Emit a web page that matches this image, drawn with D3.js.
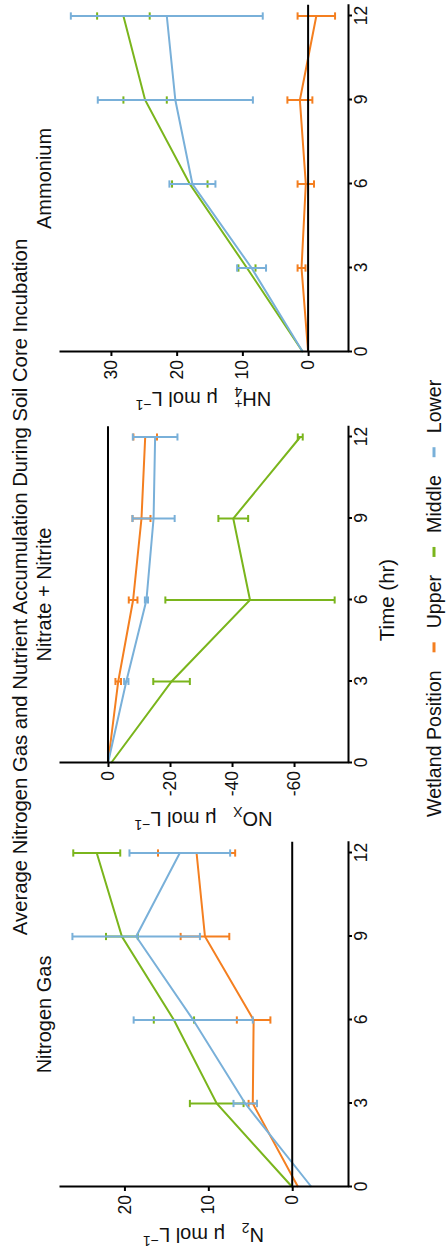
<!DOCTYPE html>
<html>
<head>
<meta charset="utf-8">
<script src="https://cdn.jsdelivr.net/npm/d3@7"></script>
<style>
body { margin: 0; background: #fff; }
svg { display: block; }
text { font-family: "Liberation Sans", Arial, sans-serif; fill: #111; }
</style>
</head>
<body>
<script>
var WIDTH = 447;
var HEIGHT = 1249;

var times = [0, 3, 6, 9, 12];
var positions = ['Upper', 'Middle', 'Lower'];
var colors = ['#f47f20', '#7ab51c', '#79b0d9'];

// N2 (umol/L)
var n2Upper = [-0.7, 4.7, 4.6, 10.4, 11.4];
var n2UpperErr = [0, 0.5, 2.0, 2.9, 4.6];
var n2Middle = [0, 9.0, 14.1, 20.3, 23.3];
var n2MiddleErr = [0, 3.2, 2.4, 1.9, 2.8];
var n2Lower = [-2.3, 5.6, 11.8, 18.6, 13.4];
var n2LowerErr = [0, 1.4, 7.1, 7.6, 6.0];

// NOx (umol/L)
var noxUpper = [0, -3.3, -8.1, -10.8, -12.0];
var noxUpperErr = [0, 0.9, 1.4, 2.9, 3.8];
var noxMiddle = [-1.0, -20.5, -45.8, -40.4, -62.0];
var noxMiddleErr = [0, 5.9, 27.3, 4.8, 0.8];
var noxLower = [0, -5.9, -12.4, -14.7, -15.2];
var noxLowerErr = [0, 0.7, 0.5, 6.8, 7.2];

// NH4+ (umol/L)
var nhUpper = [0, 1.0, 0.35, 1.25, -1.25];
var nhUpperErr = [0, 0.6, 1.25, 1.9, 2.85];
var nhMiddle = [0.8, 9.3, 18.0, 24.8, 28.1];
var nhMiddleErr = [0, 1.3, 2.7, 3.3, 4.0];
var nhLower = [0.8, 8.6, 17.6, 20.2, 21.5];
var nhLowerErr = [0, 2.2, 3.5, 11.8, 14.6];

var n2Ticks = [0, 10, 20];
var noxTicks = [0, -20, -40, -60];
var nhTicks = [0, 10, 20, 30];

var TOP = 59, BOTTOM = 348;

var panels = [
    {title: 'Nitrogen Gas', x0: 62, x12: 396, domain: [-6.65, 27.8], ticks: n2Ticks, labelX: 21,
     label: [['N', 0], ['2', 'sub'], ['   \u03bc mol L', 0], ['\u22121', 'sup']],
     means: [n2Upper, n2Middle, n2Lower], errs: [n2UpperErr, n2MiddleErr, n2LowerErr]},
    {title: 'Nitrate + Nitrite', x0: 486, x12: 812, domain: [-77.4, 15.8], ticks: noxTicks, labelX: 437,
     label: [['NO', 0], ['X', 'sub'], ['   \u03bc mol L', 0], ['\u22121', 'sup']],
     means: [noxUpper, noxMiddle, noxLower], errs: [noxUpperErr, noxMiddleErr, noxLowerErr]},
    {title: 'Ammonium', x0: 897, x12: 1233, domain: [-6.07, 37.9], ticks: nhTicks, labelX: 857,
     label: [['NH', 0], ['4', 'sub'], ['+', 'supback'], ['   \u03bc mol L', 0], ['\u22121', 'sup']],
     means: [nhUpper, nhMiddle, nhLower], errs: [nhUpperErr, nhMiddleErr, nhLowerErr]}
];

var svg = d3.select('body').append('svg')
    .attr('width', WIDTH)
    .attr('height', HEIGHT);

// the figure is laid out landscape (1249 x 447) and turned a quarter turn
var root = svg.append('g')
    .attr('transform', 'translate(0,' + HEIGHT + ') rotate(-90)');

var drawPanel = function(p) {
    var g = root.append('g');
    var xScale = d3.scaleLinear()
        .domain([0, 12.4])
        .range([p.x0, p.x0 + (p.x12 - p.x0) * 12.4 / 12]);
    var yScale = d3.scaleLinear()
        .domain(p.domain)
        .range([BOTTOM, TOP]);

    var line = d3.line()
        .x(function(d) { return xScale(d.t); })
        .y(function(d) { return yScale(d.v); });

    positions.forEach(function(name, i) {
        var pts = times.map(function(t, j) {
            return {t: t, v: p.means[i][j], e: p.errs[i][j]};
        });
        var s = g.append('g').attr('stroke', colors[i]).attr('stroke-width', 2).attr('fill', 'none');
        s.append('path').attr('d', line(pts));
        var bars = pts.filter(function(d) { return d.e > 0; });
        s.selectAll('.bar').data(bars).enter().append('line')
            .attr('x1', function(d) { return xScale(d.t); })
            .attr('x2', function(d) { return xScale(d.t); })
            .attr('y1', function(d) { return yScale(d.v - d.e); })
            .attr('y2', function(d) { return yScale(d.v + d.e); });
        [-1, 1].forEach(function(sign) {
            s.selectAll('.cap').data(bars).enter().append('line')
                .attr('x1', function(d) { return xScale(d.t - 0.13); })
                .attr('x2', function(d) { return xScale(d.t + 0.13); })
                .attr('y1', function(d) { return yScale(d.v + sign * d.e); })
                .attr('y2', function(d) { return yScale(d.v + sign * d.e); });
        });
    });

    // zero reference
    g.append('line')
        .attr('x1', xScale(0)).attr('x2', xScale(12.4))
        .attr('y1', yScale(0)).attr('y2', yScale(0))
        .attr('stroke', '#000').attr('stroke-width', 2);

    var xAxis = g.append('g')
        .attr('transform', 'translate(0,' + BOTTOM + ')')
        .call(d3.axisBottom(xScale).tickValues(times).tickSize(4).tickSizeOuter(0).tickPadding(3));
    var yAxis = g.append('g')
        .attr('transform', 'translate(' + xScale(0) + ',0)')
        .call(d3.axisLeft(yScale).tickValues(p.ticks).tickSize(4).tickSizeOuter(0).tickPadding(4)
            .tickFormat(function(d) { return String(d); }));
    [xAxis, yAxis].forEach(function(a) {
        a.selectAll('path, line').attr('stroke', '#000').attr('stroke-width', 2);
        a.selectAll('text').attr('font-size', 17.5).attr('fill', '#111')
            .style('font-family', '"Liberation Sans", Arial, sans-serif');
    });

    g.append('text')
        .attr('x', (xScale.range()[0] + xScale.range()[1]) / 2)
        .attr('y', 51)
        .attr('text-anchor', 'middle')
        .attr('font-size', 20)
        .text(p.title);

    var lab = g.append('text')
        .attr('transform', 'translate(' + p.labelX + ',' + (TOP + BOTTOM) / 2 + ') rotate(-90)')
        .attr('text-anchor', 'middle')
        .attr('font-size', 20)
        .attr('xml:space', 'preserve')
        .style('white-space', 'pre');
    p.label.forEach(function(part, k) {
        var t = lab.append('tspan').text(part[0]);
        if (part[1] === 'sub') t.attr('font-size', 14).attr('dy', 5);
        else if (part[1] === 'sup') t.attr('font-size', 14).attr('dy', -8);
        else if (part[1] === 'supback') t.attr('font-size', 14).attr('dx', -8).attr('dy', -12);
        else if (k > 0) {
            var prev = p.label[k - 1];
            if (prev[1] === 'sub') t.attr('dy', -5);
            if (prev[1] === 'supback') t.attr('dy', 7);
        }
    });
};

panels.forEach(drawPanel);

root.append('text')
    .attr('x', 662)
    .attr('y', 27)
    .attr('text-anchor', 'middle')
    .attr('font-size', 20.3)
    .text('Average Nitrogen Gas and Nutrient Accumulation During Soil Core Incubation');

root.append('text')
    .attr('x', 649)
    .attr('y', 394)
    .attr('text-anchor', 'middle')
    .attr('font-size', 20.5)
    .text('Time (hr)');

// legend
var legend = root.append('g').attr('transform', 'translate(432,441)');
var lt = legend.append('text').attr('font-size', 19.6).text('Wetland Position');
var cursor = lt.node().getComputedTextLength() + 18;
positions.forEach(function(name, i) {
    legend.append('line')
        .attr('x1', cursor).attr('x2', cursor + 10)
        .attr('y1', -7).attr('y2', -7)
        .attr('stroke', colors[i]).attr('stroke-width', 3);
    var t = legend.append('text').attr('x', cursor + 24).attr('font-size', 19.6).text(name);
    cursor += 24 + t.node().getComputedTextLength() + 18;
});
</script>
</body>
</html>
